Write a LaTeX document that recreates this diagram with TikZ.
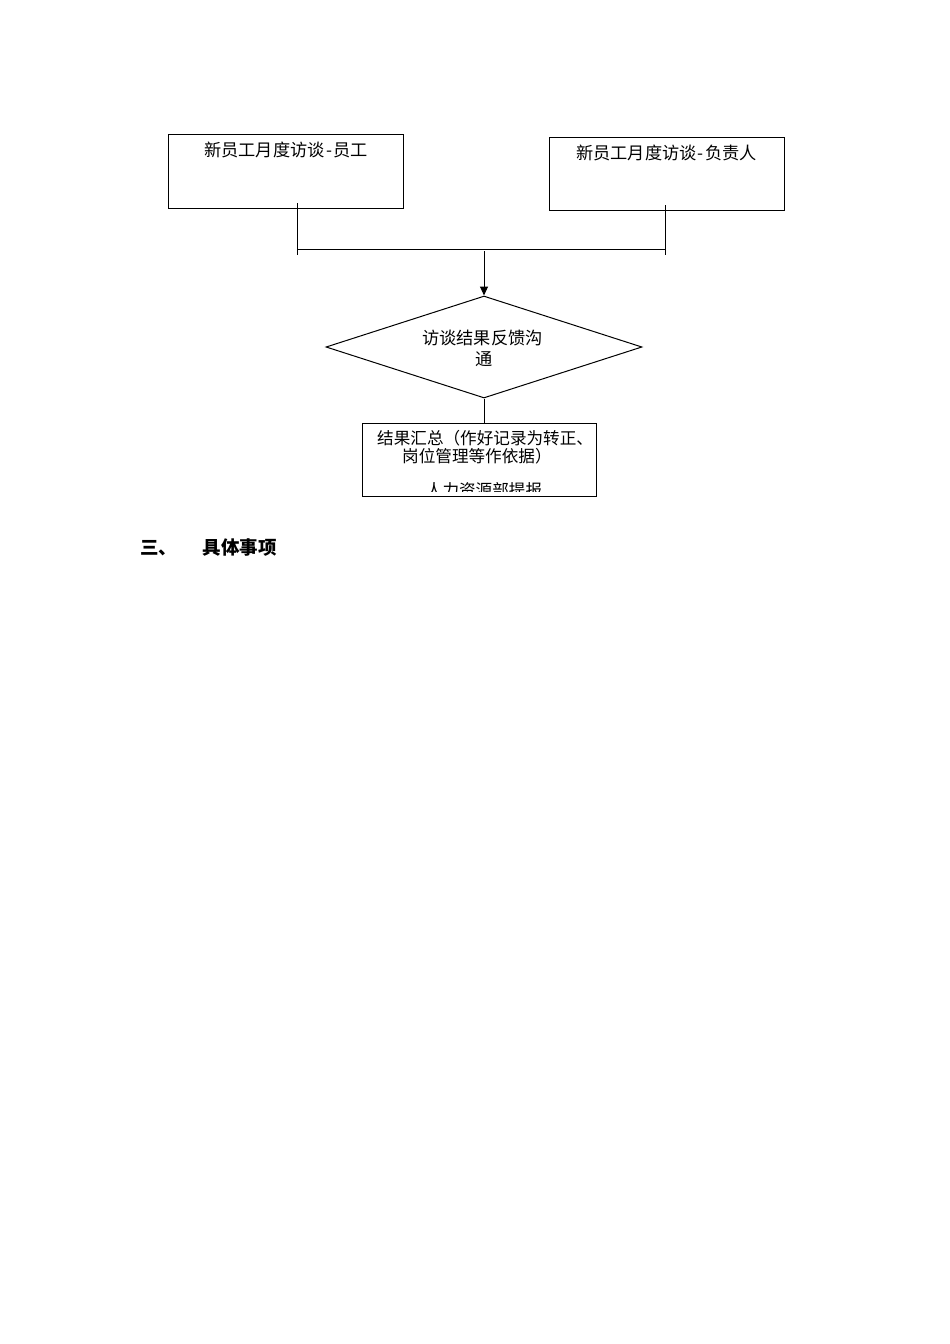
\documentclass[tikz,border=0pt]{standalone}
\usepackage{fontspec}
\newfontfamily\cjk{Noto Sans CJK SC}
\usetikzlibrary{shapes.geometric,arrows.meta}
\tikzset{
  box/.style={draw, line width=1pt, rectangle, inner sep=0pt},
  txt/.style={inner sep=0pt, font=\cjk\fontsize{17.2pt}{18pt}\selectfont, anchor=center},
  smalltxt/.style={inner sep=0pt, font=\cjk\fontsize{16.6pt}{18pt}\selectfont, anchor=center},
  conn/.style={line width=1pt},
  heading/.style={inner sep=0pt, font=\cjk\bfseries\fontsize{18.5pt}{20pt}\selectfont, anchor=center}
}
\begin{document}
\begin{tikzpicture}[x=1pt,y=1pt]
\useasboundingbox[fill=white] (0,0) rectangle (950,-1344);
% top boxes
\node[box, minimum width=235pt, minimum height=74pt] (b1) at (285.5,-171) {};
\node[txt] (t1) at (286,-150) {新员工月度访谈\makebox[0.5em]{-}员工};
\node[box, minimum width=235pt, minimum height=73pt] (b2) at (666.5,-173.5) {};
\node[txt] (t2) at (666.5,-153) {新员工月度访谈\makebox[0.5em]{-}负责人};
% connector lines
\coordinate (s1) at (297,-203);
\coordinate (e1) at (297,-255);
\coordinate (s2) at (665,-205);
\coordinate (e2) at (665,-255);
\coordinate (h1) at (297,-249);
\coordinate (h2) at (665,-249);
\coordinate (a0) at (484,-251);
\draw[conn] (s1) -- (e1);
\draw[conn] (s2) -- (e2);
\draw[conn] (h1) -- (h2);
% diamond
\node[draw, line width=1pt, diamond, aspect=3.1, minimum width=316pt, minimum height=102pt, inner sep=0pt] (d) at (484,-347) {};
\node[txt] (dt1) at (482.5,-338) {访谈结果反馈沟};
\node[txt] (dt2) at (484,-359) {通};
\draw[conn, -{Triangle[width=8pt,length=9pt]}] (a0) -- (d.north);
% bottom box
\node[box, minimum width=234pt, minimum height=73pt] (b3) at (479,-459.5) {};
\draw[conn] (d.south) -- (b3.north -| d.south);
\begin{scope}
\clip (363,-424) rectangle (595,-491);
\node[smalltxt, anchor=west] (l1) at (377,-438) {结果汇总（作好记录为转正、};
\node[smalltxt, anchor=west] (l2) at (402,-456) {岗位管理等作依据）};
\node[smalltxt] (l3) at (484,-490) {人力资源部提报};
\end{scope}
% heading
\node[heading] (h3) at (158.5,-548) {三、};
\node[heading] (h4) at (239.5,-548) {具体事项};
\end{tikzpicture}
\end{document}
